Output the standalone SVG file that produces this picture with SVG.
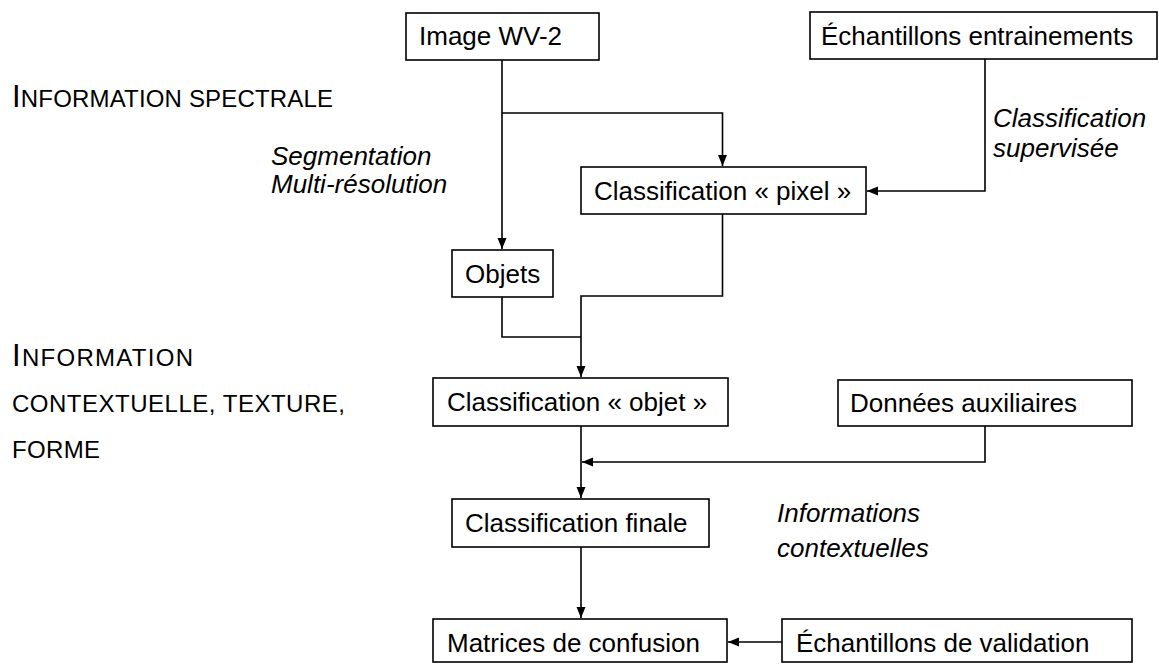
<svg xmlns="http://www.w3.org/2000/svg" width="1159" height="664" viewBox="0 0 1159 664">
<style>
.box{fill:#fff;stroke:#000;stroke-width:1.6}
.lbl{font-family:"Liberation Sans",Arial,sans-serif;font-size:26px;fill:#000}
.it{font-family:"Liberation Sans",Arial,sans-serif;font-size:26px;font-style:italic;fill:#000}
.sc{font-family:"Liberation Sans",Arial,sans-serif;font-size:24px;fill:#000}
.big{font-size:31px}
.con{fill:none;stroke:#000;stroke-width:1.6}
</style>
<defs>
<marker id="ah" markerUnits="userSpaceOnUse" markerWidth="12" markerHeight="12" viewBox="0 0 12 12" refX="11" refY="6" orient="auto">
<path d="M0,1.5 L11,6 L0,10.5 Z" fill="#000"/>
</marker>
</defs>
<rect width="1159" height="664" fill="#fff"/>
<g id="labels">
<text class="sc" x="12" y="107" textLength="321" lengthAdjust="spacing"><tspan class="big">I</tspan>NFORMATION SPECTRALE</text>
<text class="sc" x="12" y="366" textLength="181" lengthAdjust="spacing"><tspan class="big">I</tspan>NFORMATION</text>
<text class="sc" x="12" y="412" textLength="333" lengthAdjust="spacing">CONTEXTUELLE, TEXTURE,</text>
<text class="sc" x="12" y="458" textLength="88" lengthAdjust="spacing">FORME</text>
<text class="it" x="271" y="165">Segmentation</text>
<text class="it" x="271" y="193">Multi-résolution</text>
<text class="it" x="993" y="127">Classification</text>
<text class="it" x="993" y="157">supervisée</text>
<text class="it" x="777" y="522">Informations</text>
<text class="it" x="777" y="557">contextuelles</text>
</g>
<g id="connectors">
<path class="con" d="M502,60 V249" marker-end="url(#ah)"/>
<path class="con" d="M502,113 H722.5 V166" marker-end="url(#ah)"/>
<path class="con" d="M985,59 V191 H867" marker-end="url(#ah)"/>
<path class="con" d="M722.5,214 V296 H581 V377" marker-end="url(#ah)"/>
<path class="con" d="M502,297 V337 H581"/>
<path class="con" d="M581,426 V498" marker-end="url(#ah)"/>
<path class="con" d="M985,426 V462 H582" marker-end="url(#ah)"/>
<path class="con" d="M581,547 V618" marker-end="url(#ah)"/>
<path class="con" d="M782,642 H728" marker-end="url(#ah)"/>
</g>
<g id="n-image"><rect class="box" x="406" y="13" width="193" height="47"/><text class="lbl" x="419" y="45">Image WV-2</text></g>
<g id="n-echantillons"><rect class="box" x="810" y="12" width="347" height="47"/><text class="lbl" x="821" y="45">Échantillons entrainements</text></g>
<g id="n-pixel"><rect class="box" x="581" y="167" width="285" height="47"/><text class="lbl" x="594" y="200">Classification « pixel »</text></g>
<g id="n-objets"><rect class="box" x="452" y="250" width="101" height="47"/><text class="lbl" x="465" y="283">Objets</text></g>
<g id="n-objet"><rect class="box" x="433" y="378" width="295" height="48"/><text class="lbl" x="447" y="411">Classification « objet »</text></g>
<g id="n-donnees"><rect class="box" x="838" y="380" width="294" height="46"/><text class="lbl" x="850" y="412">Données auxiliaires</text></g>
<g id="n-finale"><rect class="box" x="452" y="499" width="257" height="48"/><text class="lbl" x="465" y="532">Classification finale</text></g>
<g id="n-matrices"><rect class="box" x="433" y="619" width="294" height="43"/><text class="lbl" x="447" y="652">Matrices de confusion</text></g>
<g id="n-validation"><rect class="box" x="782" y="619" width="350" height="43"/><text class="lbl" x="796" y="652">Échantillons de validation</text></g>
</svg>
